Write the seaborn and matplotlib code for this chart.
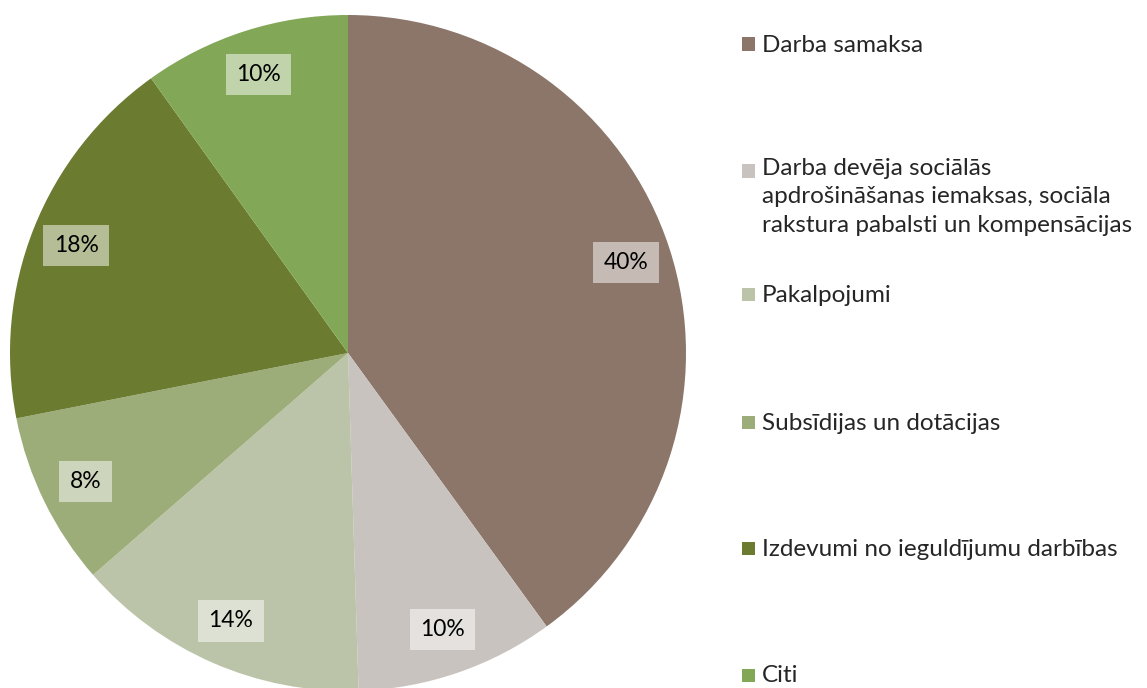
import numpy as np
import seaborn as sns
import matplotlib.pyplot as plt
from matplotlib.patches import Rectangle

categories = [
    "Darba samaksa",
    "Darba devēja sociālās\napdrošināšanas iemaksas, sociāla\nrakstura pabalsti un kompensācijas",
    "Pakalpojumi",
    "Subsīdijas un dotācijas",
    "Izdevumi no ieguldījumu darbības",
    "Citi",
]
shares = [40.0, 9.5, 14.1, 8.3, 18.2, 9.9]
colors = ["#8b7669", "#c9c3bf", "#bbc4a8", "#9cad79", "#6b7b2f", "#82a756"]
pct_labels = [f"{v:.0f}%" for v in np.round(shares)]

sns.set_theme(style="white")
plt.rcParams["font.family"] = ["Lato", "DejaVu Sans"]

W, H = 1147, 688
fig = plt.figure(figsize=(W / 100, H / 100), dpi=100)

# pie spans x 10..686 px, y 15..691 px (bottom slightly clipped)
ax = fig.add_axes([10 / W, (H - 691) / H, 676 / W, 676 / H])
wedges, _, autotexts = ax.pie(
    shares, colors=colors, startangle=90, counterclock=False,
    autopct="%1.0f%%", pctdistance=0.865, radius=1,
    wedgeprops=dict(linewidth=0),
    textprops=dict(fontsize=16.5, color="black"),
)
for t, lab in zip(autotexts, pct_labels):
    t.set_text(lab)
    t.set_bbox(dict(boxstyle="square,pad=0.45", facecolor="white", alpha=0.5, edgecolor="none"))
ax.set_xlim(-1, 1)
ax.set_ylim(-1, 1)
ax.set_aspect("equal")
ax.axis("off")

# legend entries placed to match the reference layout
text_y = [45, 197, 296, 423, 549, 676]
square_y = [44, 171, 295, 422, 548, 675]
for lab, col, ty, sy in zip(categories, colors, text_y, square_y):
    fig.patches.append(Rectangle((742 / W, (H - sy - 6.5) / H), 13 / W, 13 / H,
                                 transform=fig.transFigure, facecolor=col, edgecolor="none"))
    fig.text(762 / W, (H - ty) / H, lab, fontsize=17.5, va="center", ha="left",
             linespacing=1.42)

fig.savefig("out.png", dpi=100)
